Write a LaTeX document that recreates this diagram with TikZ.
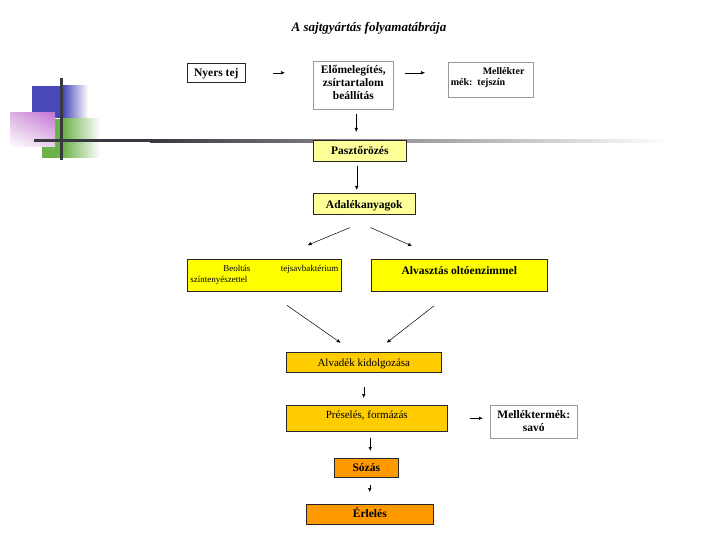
\documentclass[tikz,border=0pt]{standalone}
\usepackage{fontspec}
\setmainfont{Liberation Serif}
\usetikzlibrary{arrows.meta,shadings}
\definecolor{decoblue}{RGB}{72,72,184}
\definecolor{decogreen}{RGB}{108,178,72}
\definecolor{decoviolet}{RGB}{196,120,212}
\definecolor{decopink}{RGB}{222,176,228}
\definecolor{decoline}{RGB}{56,56,64}
\definecolor{paleyellow}{HTML}{FFFF99}
\definecolor{boxyellow}{HTML}{FFFF00}
\definecolor{boxgold}{HTML}{FFCC00}
\definecolor{boxorange}{HTML}{FF9900}

\begin{document}
\begin{tikzpicture}[x=1pt,y=-1pt]
	\tikzstyle{box} = [draw=black!85, line width=0.6pt, anchor=north west, inner ysep=0pt, inner xsep=0pt, align=center, font=\fontsize{11.5}{13}\selectfont\bfseries]
	\tikzstyle{greybox} = [box, draw=black!40]
	\tikzstyle{plain} = [font=\fontsize{11}{13}\selectfont]
	\tikzstyle{arr} = [-{Latex[length=4pt,width=3.5pt]}, line width=0.5pt]
	\useasboundingbox (0,0) rectangle (720,540);
	% decoration on the left
	\fill[decoblue] (32,86) rectangle (63,118);
	\shade[left color=decoblue, right color=white] (63,86) rectangle (88,118);
	\fill[decogreen] (42,119) rectangle (63,158);
	\shade[left color=decogreen, right color=white] (63,119) rectangle (100,158);
	\shade[upper left=decopink, upper right=decoviolet, lower right=decopink!60, lower left=white] (10,113) rectangle (55,147);
	\fill[decoline] (59.5,78) rectangle (62.5,160);
	\fill[decoline] (34,139.5) rectangle (150,142.5);
	\shade[left color=decoline, right color=white] (150,139.5) rectangle (670,142.5);
	% title
	\node (title) at (369,28) {\fontsize{13}{15}\selectfont\bfseries\itshape A sajtgyártás folyamatábrája};
	% first row
	\node[box, minimum width=58pt, text height=13pt, text depth=6pt] (nyers) at (187,63) {Nyers tej};
	\node[greybox, text width=76pt, inner xsep=2pt, text height=12.7pt, text depth=35.3pt] (elo) at (313,61) {Előmelegítés,\\zsírtartalom\\beállítás};
	\node[greybox, align=left, text width=80pt, inner xsep=2.5pt, text height=12.7pt, text depth=22.3pt, font=\fontsize{10}{11}\selectfont\bfseries] (mellek) at (448,62) {\hspace*{32pt}Mellékter\\mék: tejszín};
	% yellow steps
	\node[box, fill=paleyellow, minimum width=93pt, text height=14.2pt, text depth=6.8pt] (paszt) at (313,140) {Pasztőrözés};
	\node[box, fill=paleyellow, minimum width=102pt, text height=14.7pt, text depth=6.3pt] (adalek) at (313,193) {Adalékanyagok};
	\node[box, fill=boxyellow, align=left, text width=148pt, inner xsep=3pt, text height=12.2pt, text depth=19.8pt, font=\fontsize{9}{11}\selectfont] (beoltas) at (187,259) {\hspace*{33pt}Beoltás\hfill tejsavbaktérium\\színtenyészettel};
	\node[box, fill=boxyellow, minimum width=176pt, text height=14.7pt, text depth=17.3pt] (alvasztas) at (371,259) {Alvasztás oltóenzimmel};
	% gold steps
	\node[box, plain, fill=boxgold, minimum width=155pt, text height=14pt, text depth=6pt] (alvadek) at (286,352) {Alvadék kidolgozása};
	\node[box, plain, fill=boxgold, minimum width=161pt, text height=13pt, text depth=13pt] (preseles) at (286,405) {Préselés, formázás};
	\node[greybox, text width=83pt, inner xsep=2pt, text height=12.7pt, text depth=20.3pt] (savo) at (490,405) {Melléktermék:\\savó};
	% orange steps
	\node[box, fill=boxorange, minimum width=64pt, text height=13pt, text depth=6pt] (sozas) at (334,458) {Sózás};
	\node[box, fill=boxorange, minimum width=127pt, text height=13pt, text depth=7pt] (erleles) at (306,504) {Érlelés};
	% arrows
	\draw[arr, shorten <=27pt, shorten >=28pt] (nyers.east) -- (nyers.east -| elo.west);
	\draw[arr, shorten <=11pt, shorten >=23pt] (elo.east |- nyers.east) -- (mellek.west |- nyers.east);
	\draw[arr, shorten <=4pt, shorten >=8pt] ([xshift=3pt]elo.south) -- ([xshift=3pt]elo.south |- paszt.north);
	\draw[arr, shorten <=4pt, shorten >=3pt] ([xshift=-3pt]paszt.south) -- ([xshift=-3pt]paszt.south |- adalek.north);
	\draw[arr, shorten <=34pt, shorten >=36pt] ([xshift=17pt]adalek.south) -- ([xshift=10pt]beoltas.north);
	\draw[arr, shorten <=32pt, shorten >=32pt] ([xshift=-23pt]adalek.south) -- ([xshift=-18pt]alvasztas.north);
	\draw[arr, shorten <=24pt, shorten >=16pt] ([xshift=3pt]beoltas.south) -- ([xshift=-10pt]alvadek.north);
	\draw[arr, shorten <=23pt, shorten >=15pt] ([xshift=-7pt]alvasztas.south) -- ([xshift=11pt]alvadek.north);
	\draw[arr, shorten <=14pt, shorten >=7pt] (alvadek.south) -- (alvadek.south |- preseles.north);
	\draw[arr, shorten <=22pt, shorten >=7pt] (preseles.east) -- (preseles.east -| savo.west);
	\draw[arr, shorten <=6pt, shorten >=7pt] ([xshift=4pt]sozas.north |- preseles.south) -- ([xshift=4pt]sozas.north);
	\draw[arr, shorten <=7pt, shorten >=12pt] (sozas.south -| erleles.north) -- (erleles.north);
\end{tikzpicture}
\end{document}
